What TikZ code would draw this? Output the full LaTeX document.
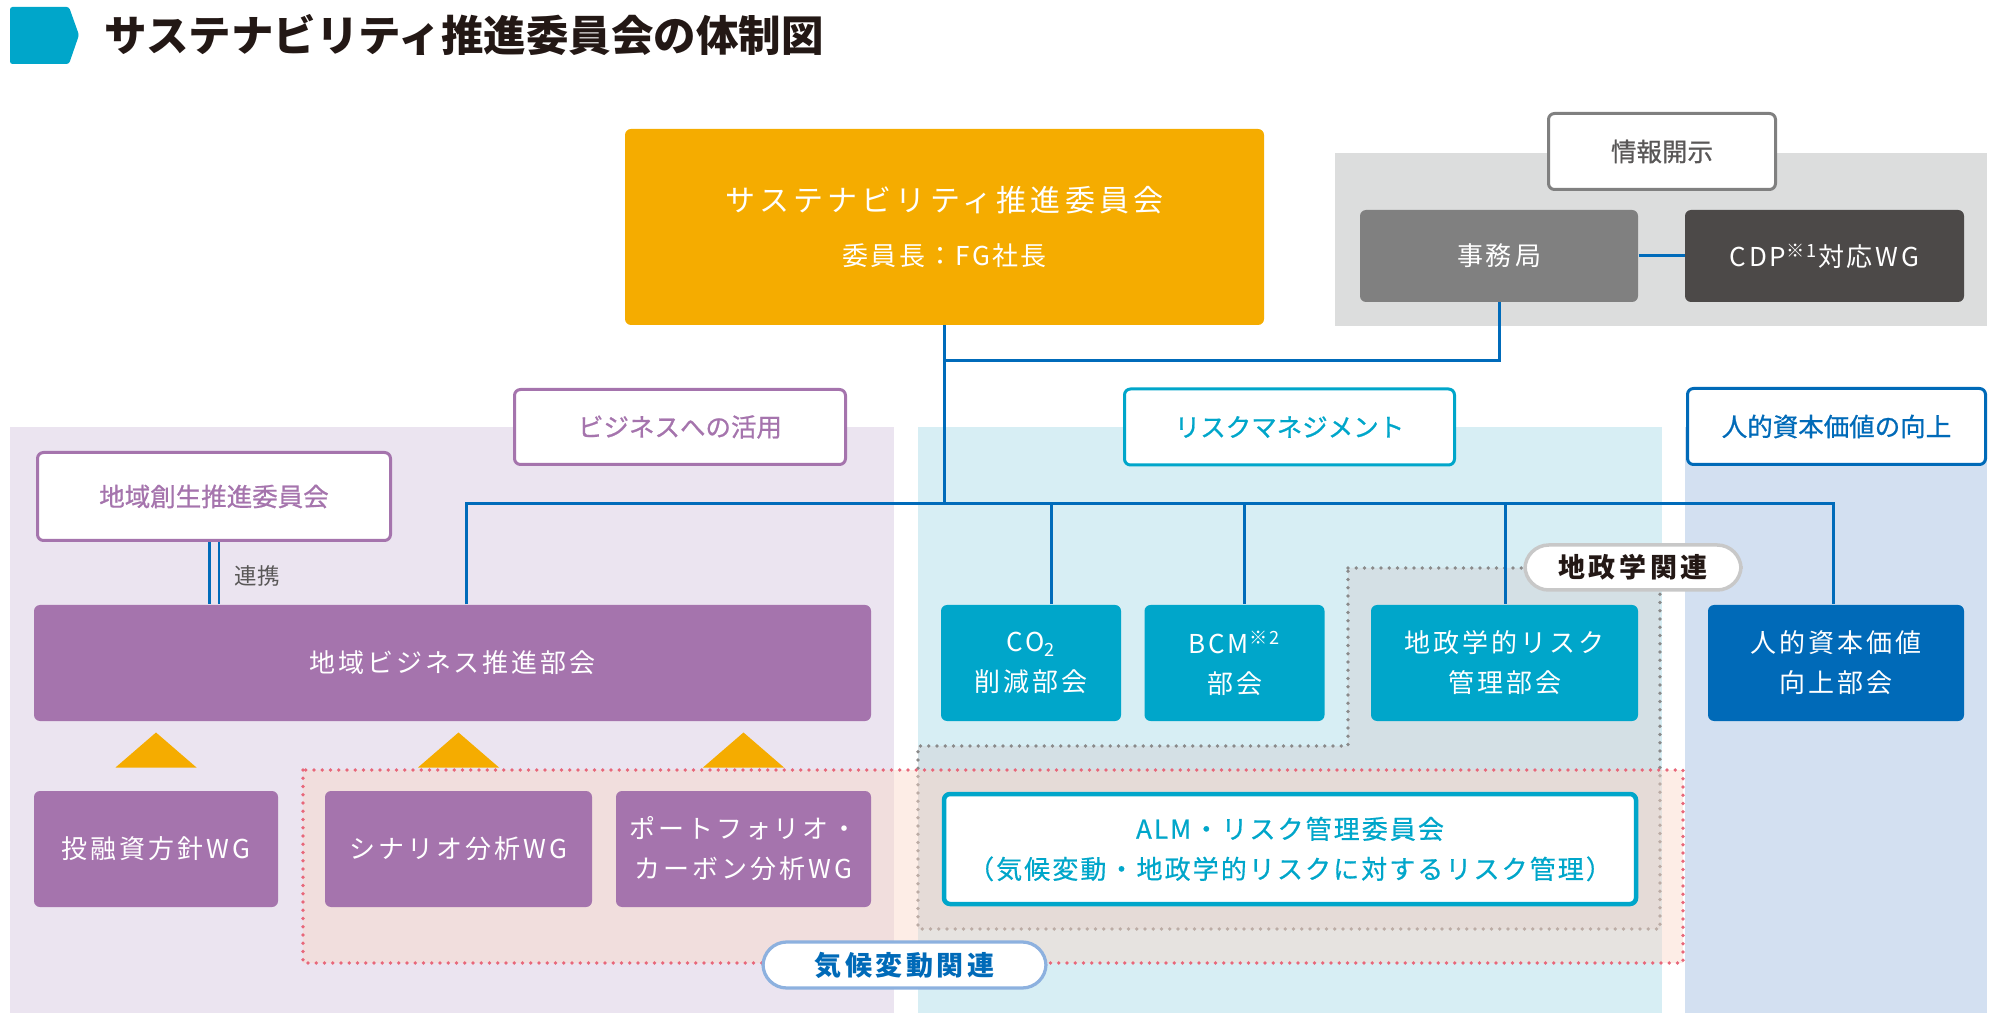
\documentclass[tikz,border=0pt]{standalone}
\usepackage{fontspec}
\setmainfont{Noto Sans CJK JP}
\newfontfamily\jpbox[LetterSpace=11.5]{Noto Sans CJK JP}
\newfontfamily\jpalm[LetterSpace=8,FakeBold=0.6]{Noto Sans CJK JP}
\newfontfamily\jplead[LetterSpace=14]{Noto Sans CJK JP}
\newfontfamily\jpsub[LetterSpace=9]{Noto Sans CJK JP}
\newfontfamily\jppill[LetterSpace=13]{Noto Sans CJK JP}
\newfontfamily\jptag[FakeBold=0.8]{Noto Sans CJK JP}
\newfontfamily\jpplain{Noto Sans CJK JP}
\newdimen\unitsize
\setlength{\unitsize}{0.4pt}

\definecolor{fgorange}{HTML}{F5AC00}
\definecolor{fgpurple}{HTML}{A574AD}
\definecolor{fgpurplebg}{HTML}{EBE4F0}
\definecolor{fgcyan}{HTML}{00A6CA}
\definecolor{fgcyanbg}{HTML}{D7EEF4}
\definecolor{fgblue}{HTML}{006AB8}
\definecolor{fgbluebg}{HTML}{D3E0F1}
\definecolor{fgline}{HTML}{006BBA}
\definecolor{fggraybg}{HTML}{DCDDDD}
\definecolor{fggray}{HTML}{808080}
\definecolor{fgdark}{HTML}{4C4948}
\definecolor{fggeo}{HTML}{D4E0E5}
\definecolor{fgpink}{HTML}{FAD7C8}
\definecolor{fgred}{HTML}{E8677A}
\definecolor{fgdot}{HTML}{8A8A8A}
\definecolor{fgtext}{HTML}{231815}
\definecolor{fgdim}{HTML}{595757}
\definecolor{fgpillline}{HTML}{8DB1DF}
\definecolor{fggeoline}{HTML}{C8C8C8}

\begin{document}
\begin{tikzpicture}[x=\unitsize,y=-\unitsize,
  conn/.style={fgline,line width=1.2pt},
  sz/.style 2 args={minimum width=#1*\unitsize,minimum height=#2*\unitsize},
  fillbox/.style={rounded corners=2.4pt,inner sep=0pt,text=white,align=center,
    font={\jpbox\fontsize{10.4pt}{16pt}\selectfont}},
  tagbox/.style={draw,fill=white,line width=1.2pt,rounded corners=2.4pt,
    inner sep=0pt,align=center,font={\jptag\fontsize{10.2pt}{16pt}\selectfont}},
  pilltag/.style={draw,fill=white,line width=1.3pt,rounded corners=9.5pt,
    inner sep=0pt,font={\jppill\bfseries\fontsize{10.8pt}{14pt}\selectfont}},
  dotline/.style={line width=1.45pt,line cap=round,dash pattern=on 0pt off 3.3pt}]
\useasboundingbox (0,0) rectangle (2000,1018);

% title
\fill[fgcyan,rounded corners=1pt] (10,7) -- (69,7) -- (79,35) -- (69,64)
  -- (10,64) -- cycle;
\node[anchor=west,inner sep=0pt,text=fgtext,
  font={\jpplain\bfseries\fontsize{17pt}{20pt}\selectfont}] (title) at (104,35)
  {サステナビリティ推進委員会の体制図};

% background areas
\fill[fggraybg] (1335,153) rectangle (1987,326);
\fill[fgpurplebg] (10,427) rectangle (894,1013);
\fill[fgcyanbg] (918,427) rectangle (1662,1013);
\fill[fgbluebg] (1685,427) rectangle (1987,1013);
\draw[dotline,fgdot,fill=fggeo] (1348,568) -- (1660,568) -- (1660,929)
  -- (918,929) -- (918,746) -- (1348,746) -- cycle;
\fill[fgpink,fill opacity=0.45] (303,770) rectangle (1683,963);
\draw[dotline,fgred] (303,770) rectangle (1683,963);

% committee and office
\node[fillbox,fill=fgorange,sz={639}{196},
  font={\jplead\fontsize{12pt}{15pt}\selectfont}] (suscom) at (944.5,227)
  {サステナビリティ推進委員会\\[6.4pt]{\jpsub\fontsize{10.4pt}{15pt}\selectfont 委員長：FG社長}};
\node[tagbox,draw=fggray,text=fgdim,sz={227}{76}] (disc) at (1662,151.5) {情報開示};
\node[fillbox,fill=fggray,sz={278}{92}] (jimu) at (1499,256) {事務局};
\node[fillbox,fill=fgdark,sz={279}{92}] (cdp) at (1824.5,256)
  {CDP\textsuperscript{※1}対応WG};

% area labels
\node[tagbox,draw=fgpurple,text=fgpurple,sz={331}{75}] (bizuse) at (680,427)
  {ビジネスへの活用};
\node[tagbox,draw=fgpurple,text=fgpurple,sz={353}{88}] (regcom) at (214,496.5)
  {地域創生推進委員会};
\node[tagbox,draw=fgcyan,text=fgcyan,sz={330}{76}] (riskmg) at (1289.5,427)
  {リスクマネジメント};
\node[tagbox,draw=fgblue,text=fgblue,sz={298}{76}] (hcval) at (1836.5,426.5)
  {人的資本価値の向上};

% divisions
\node[fillbox,fill=fgpurple,sz={837}{116}] (regbiz) at (452.5,663) {地域ビジネス推進部会};
\node[fillbox,fill=fgcyan,sz={180}{116}] (co2) at (1031,663) {CO\textsubscript{2}\\削減部会};
\node[fillbox,fill=fgcyan,sz={180}{116}] (bcm) at (1234.5,663) {BCM\textsuperscript{※2}\\部会};
\node[fillbox,fill=fgcyan,sz={267}{116}] (geork) at (1504.5,663) {地政学的リスク\\管理部会};
\node[fillbox,fill=fgblue,sz={256}{116}] (hcdiv) at (1836,663) {人的資本価値\\向上部会};

% working groups
\node[fillbox,fill=fgpurple,sz={244}{116}] (wginv) at (156,849) {投融資方針WG};
\node[fillbox,fill=fgpurple,sz={267}{116}] (wgscn) at (458.5,849) {シナリオ分析WG};
\node[fillbox,fill=fgpurple,sz={255}{116}] (wgpf) at (743.5,849)
  {ポートフォリオ・\\カーボン分析WG};
\foreach \tn in {wginv,wgscn,wgpf}
  \fill[fgorange] ([shift={(-40.5,-23)}]\tn.north) -- ++(81,0) -- ++(-40.5,-35) -- cycle;
\node[tagbox,draw=fgcyan,text=fgcyan,line width=1.8pt,sz={692}{110},
  font={\jpalm\fontsize{10.4pt}{16pt}\selectfont}] (alm) at (1290,849)
  {ALM・リスク管理委員会\\（気候変動・地政学的リスクに対するリスク管理）};

% connectors
\foreach \dn/\dx in {1/466,2/1051,3/1244,4/1505,5/1833}
  \coordinate (d\dn) at (\dx,504);
\draw[conn] (d1 |- regbiz.north) -- (d1) -- (d5) -- (d5 |- hcdiv.north);
\foreach \dn/\bx in {2/co2,3/bcm,4/geork}
  \draw[conn] (d\dn) -- (d\dn |- \bx.north);
\draw[conn] (suscom.south) -- (suscom.south |- d1);
\draw[conn] (jimu.south) |- (suscom.south |- 0,361);
\draw[conn] (jimu) -- (cdp);
\draw[fgline,line width=1.1pt,double=fgpurplebg,double distance=2.8pt]
  (regcom.south) -- (regcom.south |- regbiz.north);
\node[anchor=west,inner sep=0pt,text=fgdim,
  font={\jpplain\fontsize{9pt}{11pt}\selectfont}] (renkei) at (234,576) {連携};

% theme tags
\node[pilltag,draw=fggeoline,line width=1.4pt,text=fgtext,sz={216}{45}] (geotag)
  at (1633,567.5) {地政学関連};
\node[pilltag,draw=fgpillline,text=fgblue,sz={283}{46}] (climtag)
  at (904.5,965) {気候変動関連};
\end{tikzpicture}
\end{document}
